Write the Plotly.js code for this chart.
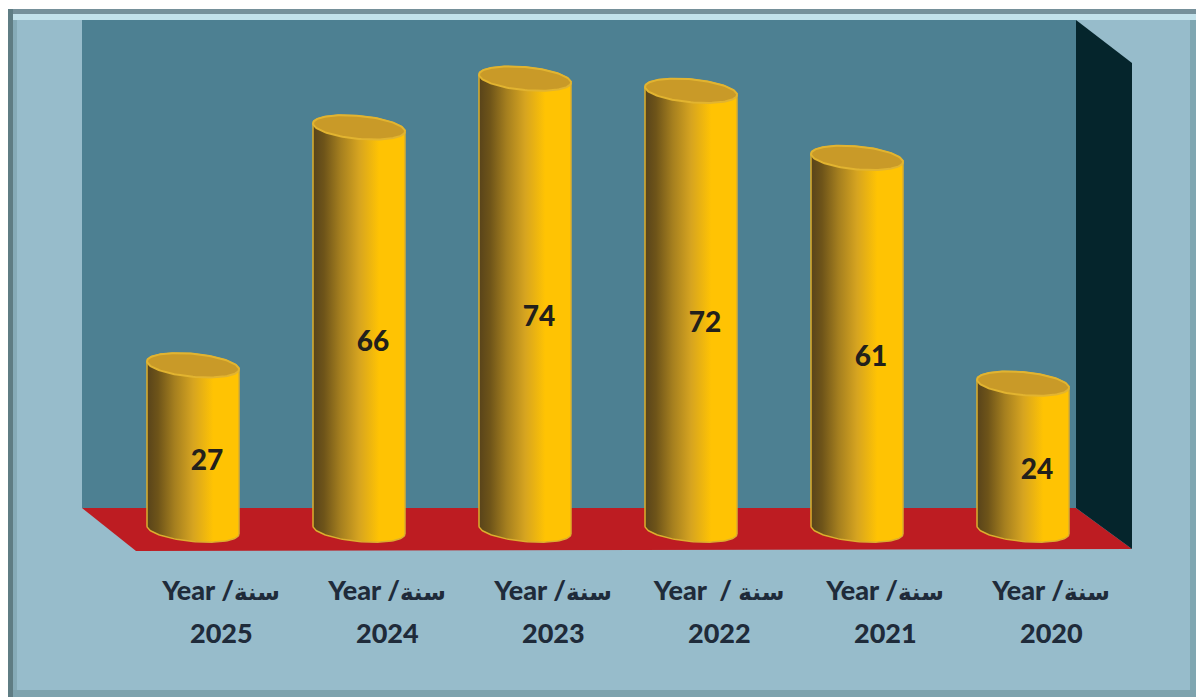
<!DOCTYPE html>
<html>
<head>
<meta charset="utf-8">
<script src="https://cdn.plot.ly/plotly-3.0.1.min.js"></script>
<style>html,body{margin:0;padding:0;background:#fff;overflow:hidden}</style>
</head>
<body>
<div id="chart" style="width:1196px;height:697px"></div>
<script>
// Data
var categories = ["2025", "2024", "2023", "2022", "2021", "2020"];
var values = [27, 66, 74, 72, 61, 24];
var tickLabels = ["Year /سنة", "Year /سنة", "Year /سنة", "Year  / سنة", "Year /سنة", "Year /سنة"];

// Layout geometry (pixels)
var W = 1196, H = 697, axisPx = 565, zeroPx = 530, pxPerUnit = 6.1;
var firstCx = 193, stepPx = 166;
var semiA = 46, semiB = 11.5, tilt = 4;

var xRange = [-firstCx / stepPx, (W - firstCx) / stepPx];
var yRange = [-(axisPx - zeroPx) / pxPerUnit, zeroPx / pxPerUnit];
function px(x) { return x / W; }
function py(y) { return (axisPx - y) / axisPx; }
function rect(x0, y0, x1, y1, color) {
  return {type: "rect", xref: "paper", yref: "paper", layer: "below", x0: px(x0), x1: px(x1), y0: py(y0), y1: py(y1), fillcolor: color, line: {width: 0}};
}
function poly(points, color) {
  var d = points.map(function (p, i) { return (i ? "L" : "M") + px(p[0]) + "," + py(p[1]); }).join(" ") + " Z";
  return {type: "path", xref: "paper", yref: "paper", layer: "below", path: d, fillcolor: color, line: {width: 0}};
}

var shapes = [
  rect(8, 9, 1196, 697, "#75909a"),
  rect(13, 14, 1196, 692, "#c2e1ea"),
  rect(13, 20, 1190, 690, "#97bccb"),
  rect(8, 9, 13, 697, "#5f7d84"),
  rect(13, 20, 17, 690, "#86abb8"),
  rect(1190, 20, 1196, 697, "#7fa6b1"),
  rect(13, 690, 1196, 697, "#7ea3ae"),
  rect(82, 20, 1076, 508, "#4d8092"),
  poly([[82, 508], [1076, 508], [1132, 549], [136, 551]], "#bd1c22"),
  poly([[1076, 20], [1132, 63], [1132, 549], [1076, 508]], "#05252c")
];

// Cylinders are derived from the values through the data axes
var au = semiA / stepPx;
function ex(i, t) { return i + au * Math.cos(t); }
function ey(v, t) { return v - (semiB * Math.sin(t) + tilt * Math.cos(t)) / pxPerUnit; }
var N = 60;
var traces = [];
values.forEach(function (v, i) {
  var xs = [], ys = [], k, t;
  for (k = 0; k <= N; k++) { t = Math.PI * k / N; xs.push(ex(i, t)); ys.push(ey(0, t)); }
  for (k = 0; k <= N; k++) { t = Math.PI * (1 + k / N); xs.push(ex(i, t)); ys.push(ey(v, t)); }
  xs.push(xs[0]); ys.push(ys[0]);
  traces.push({
    type: "scatter", mode: "lines", x: xs, y: ys, fill: "toself",
    fillgradient: {type: "horizontal", colorscale: [[0, "#58431a"], [0.12, "#6e5419"], [0.3, "#a57f1f"], [0.5, "#d6a420"], [0.72, "#ffc303"], [1, "#ffc303"]]},
    line: {color: "#dcae2e", width: 1.5}, hoverinfo: "skip", showlegend: false, cliponaxis: false
  });
  var tx = [], ty = [];
  for (k = 0; k <= 2 * N; k++) { t = Math.PI * k / N; tx.push(ex(i, t)); ty.push(ey(v, t)); }
  traces.push({
    type: "scatter", mode: "lines", x: tx, y: ty, fill: "toself", fillcolor: "#c99a28",
    line: {color: "#e2b430", width: 2}, hoverinfo: "skip", showlegend: false, cliponaxis: false
  });
});

// Value labels
var labelShiftX = 14 / stepPx, labelShiftY = 15 / pxPerUnit;
traces.push({
  type: "scatter", mode: "text",
  x: values.map(function (v, i) { return i + labelShiftX; }),
  y: values.map(function (v) { return v / 2 - labelShiftY; }),
  text: values.map(String), textposition: "middle center",
  textfont: {family: "Lato, 'DejaVu Sans', sans-serif", size: 28, color: "#22201c", weight: 900},
  hoverinfo: "skip", showlegend: false, cliponaxis: false
});

var tickShift = 28 / stepPx;
var tickVals = categories.map(function (c, i) { return i + tickShift; });
var labelFont = {family: "Lato, 'DejaVu Sans', sans-serif", size: 27, color: "#1f2b3a", weight: 900};
var annotations = categories.map(function (c, i) {
  return {xref: "x", yref: "paper", x: tickVals[i], y: py(632), text: c, showarrow: false, xanchor: "center", yanchor: "middle", font: labelFont};
});
function tickHtml(t) {
  return t.replace("سنة", "<span style=\"font-size:23px\">سنة</span>");
}

var layout = {
  width: W, height: H,
  margin: {l: 0, r: 0, t: 0, b: H - axisPx, pad: 0},
  paper_bgcolor: "#ffffff", plot_bgcolor: "rgba(0,0,0,0)",
  showlegend: false,
  shapes: shapes,
  annotations: annotations,
  xaxis: {
    range: xRange, tickmode: "array", tickvals: tickVals,
    ticktext: tickLabels.map(tickHtml),
    tickfont: labelFont, showgrid: false, zeroline: false, showline: false,
    ticks: "outside", ticklen: 2, tickcolor: "rgba(0,0,0,0)", tickangle: 0, fixedrange: true
  },
  yaxis: {range: yRange, visible: false, showgrid: false, zeroline: false, fixedrange: true}
};
Plotly.newPlot("chart", traces, layout, {displayModeBar: false, staticPlot: true});
</script>
</body>
</html>
